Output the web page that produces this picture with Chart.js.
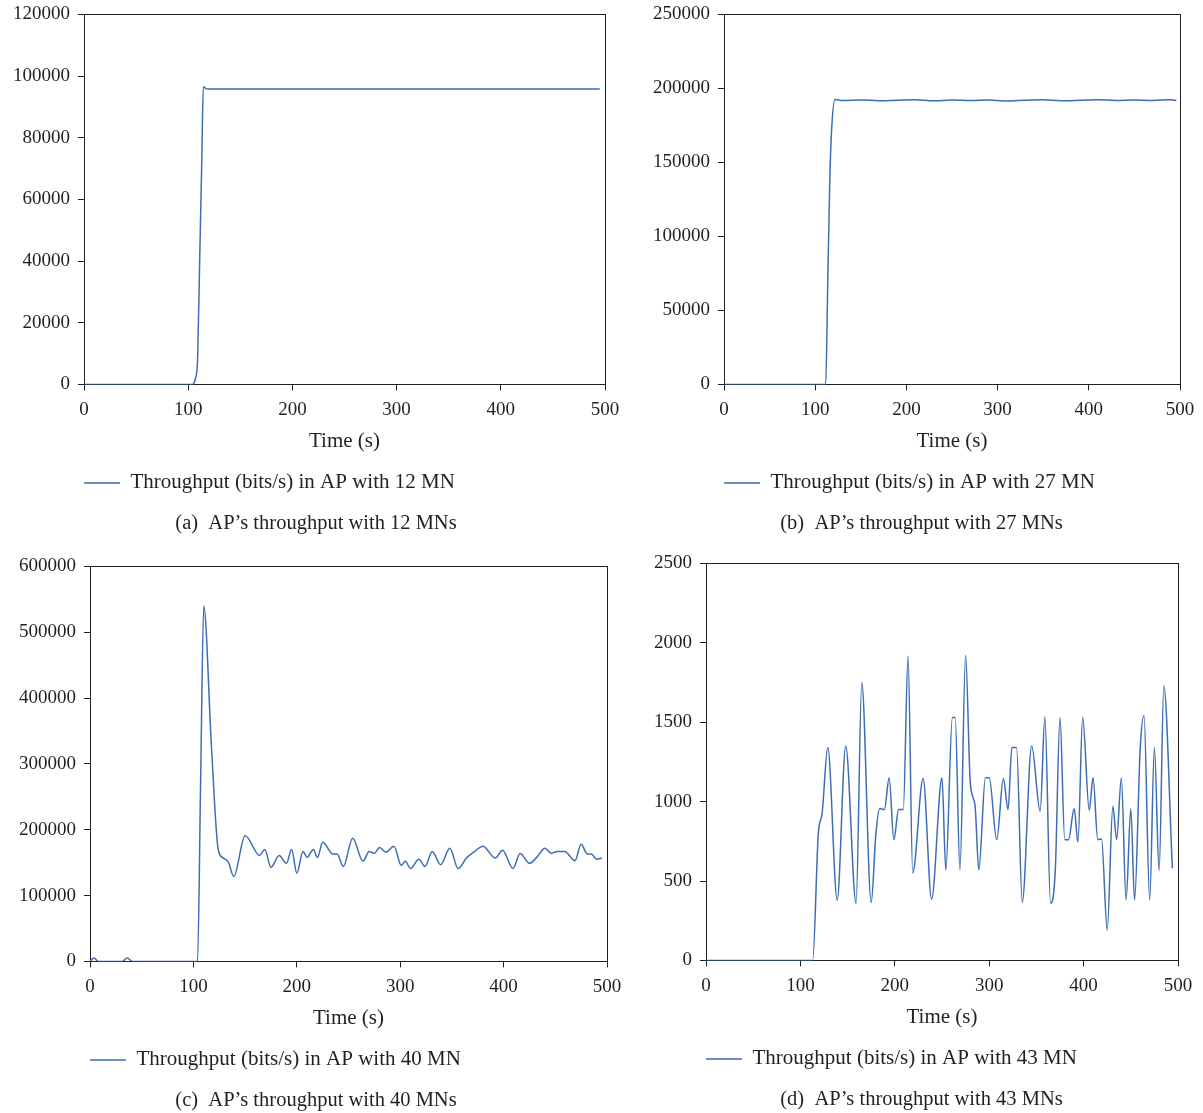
<!DOCTYPE html>
<html>
<head>
<meta charset="utf-8">
<script src="https://cdn.jsdelivr.net/npm/chart.js@4.4.1/dist/chart.umd.min.js"></script>
<style>
  body { margin: 0; background: #fff; width: 1203px; height: 1113px; overflow: hidden; position: relative; }
  canvas { position: absolute; }
</style>
</head>
<body>
<canvas id="chartA" width="632" height="541" style="left:0px;top:-5px"></canvas>
<canvas id="chartB" width="563" height="541" style="left:640px;top:-5px"></canvas>
<canvas id="chartC" width="632" height="566" style="left:0px;top:547px"></canvas>
<canvas id="chartD" width="563" height="568" style="left:640px;top:544px"></canvas>
<script>
// Panel (a): 12 MN
const timeA = [0, 104, 107, 109, 111, 113, 114.5, 118, 200, 300, 400, 495];
const rateA = [0, 0, 2000, 8000, 40000, 72000, 96500, 95800, 95800, 95800, 95800, 95800];

// Panel (b): 27 MN
const timeB = [0, 111.5, 113.8, 116, 118, 121.7, 130, 150, 170, 190, 210, 230, 250, 270, 290, 310, 330, 350, 370, 390, 410, 430, 450, 470, 490, 496];
const rateB = [0, 0, 70000, 138000, 172000, 192500, 191800, 192200, 191700, 192000, 192300, 191600, 192100, 191800, 192200, 191500, 192000, 192300, 191700, 192000, 192400, 191800, 192200, 191900, 192300, 191800];

// Panel (c): 40 MN
const timeC = [0, 4, 8, 31, 36, 41, 104, 107, 110, 117.5, 124, 129, 134, 139, 150, 164, 169, 175, 183, 190, 195, 200, 206, 210, 216, 220, 225, 235, 239, 245, 254, 264, 270, 275, 280, 286, 294, 301, 305, 310, 318, 324, 331, 339, 348, 356, 364, 372, 380, 392, 399, 409, 416, 425, 432, 440, 446, 452, 459, 469, 475, 481, 485, 490, 495];
const rateC = [0, 5000, 0, 0, 5000, 0, 0, 275000, 540000, 325000, 170000, 157000, 150000, 129000, 191000, 161000, 170000, 143000, 161000, 149000, 170000, 134000, 167000, 158000, 170000, 158000, 181000, 163000, 163000, 144000, 187000, 152000, 167000, 164000, 173000, 166000, 175000, 146000, 152000, 141000, 155000, 144000, 167000, 147000, 172000, 141000, 157000, 167000, 175000, 157000, 169000, 141000, 164000, 149000, 158000, 172000, 164000, 167000, 167000, 153000, 178000, 163000, 163000, 155000, 157000];

// Panel (d): 43 MN
const timeD = [0, 113, 119, 123, 129, 139, 148, 159, 165, 175, 180, 184, 189, 194, 199, 204, 209, 214, 219, 230, 239, 250, 254, 261, 264, 269, 275, 280, 285, 289, 296, 300, 308, 315, 320, 324, 329, 335, 345, 354, 359, 365, 370, 375, 380, 384, 390, 394, 399, 406, 410, 415, 419, 425, 431, 435, 440, 445, 450, 454, 460, 464, 470, 475, 480, 485, 494];
const rateD = [0, 0, 800, 925, 1340, 380, 1350, 360, 1750, 365, 800, 957, 950, 1150, 760, 950, 950, 1915, 550, 1145, 385, 1150, 570, 1530, 1530, 570, 1920, 1115, 975, 570, 1150, 1150, 760, 1145, 950, 1340, 1340, 365, 1350, 940, 1535, 360, 565, 1530, 760, 760, 955, 745, 1530, 945, 1150, 760, 765, 190, 970, 760, 1150, 380, 955, 380, 1340, 1540, 380, 1340, 565, 1730, 580];

const timeTicks = [0, 100, 200, 300, 400, 500];

const ink = "#231f20";
const lineBlue = "#3d6db3";
const serif = "'Liberation Serif', 'DejaVu Serif', serif";

// legend starts at the left edge of the plot box
const legendShift = {
  id: "legendShift",
  afterLayout(chart) {
    const pad = chart.options.plugins.legend.labels.padding;
    chart.legend.left = chart.chartArea.left - pad;
  },
};

function makePanel(id, times, rates, yMax, yStep, axisWidth, rightGap, seriesLabel, caption) {
  const points = times.map((t, i) => ({ x: t, y: rates[i] }));
  const hidden = {
    display: true,
    ticks: { display: false },
    grid: { drawTicks: false, drawOnChartArea: false },
    border: { color: ink, width: 1 },
  };
  return new Chart(document.getElementById(id), {
    type: "line",
    data: {
      datasets: [
        {
          label: seriesLabel,
          data: points,
          borderColor: lineBlue,
          backgroundColor: lineBlue,
          borderWidth: 1.5,
          pointRadius: 0,
          cubicInterpolationMode: "monotone",
        },
      ],
    },
    options: {
      responsive: false,
      animation: false,
      layout: { padding: 0 },
      scales: {
        x: {
          type: "linear",
          min: 0,
          max: 500,
          afterBuildTicks: (scale) => {
            scale.ticks = timeTicks.map((v) => ({ value: v }));
          },
          ticks: {
            color: ink,
            font: { family: serif, size: 19 },
            padding: 8,
            maxRotation: 0,
            callback: (v) => String(v),
          },
          grid: { drawOnChartArea: false, tickLength: 6, tickColor: ink },
          border: { color: ink, width: 1 },
          title: {
            display: true,
            text: "Time (s)",
            color: ink,
            font: { family: serif, size: 21 },
            padding: { top: 0, bottom: 0 },
          },
        },
        y: {
          min: 0,
          max: yMax,
          ticks: {
            stepSize: yStep,
            color: ink,
            font: { family: serif, size: 19 },
            padding: 8,
            callback: (v) => String(v),
          },
          grid: { drawOnChartArea: false, tickLength: 6, tickColor: ink },
          border: { color: ink, width: 1 },
          afterFit: (scale) => {
            scale.width = axisWidth;
          },
        },
        xTop: Object.assign({ type: "linear", position: "top", min: 0, max: 500 }, hidden),
        yRight: Object.assign({ type: "linear", position: "right", min: 0, max: yMax,
          afterFit: (scale) => {
            scale.width = rightGap;
          } }, hidden),
      },
      plugins: {
        legend: {
          position: "bottom",
          align: "start",
          labels: {
            usePointStyle: true,
            pointStyle: "line",
            pointStyleWidth: 36,
            padding: 18,
            color: ink,
            font: { family: serif, size: 21 },
          },
        },
        title: {
          display: true,
          position: "bottom",
          text: caption,
          color: ink,
          font: { family: serif, size: 20.5, weight: "normal" },
          padding: { top: 8, bottom: 0 },
        },
        tooltip: { enabled: false },
      },
    },
    plugins: [legendShift],
  });
}

makePanel("chartA", timeA, rateA, 120000, 20000, 84, 27,
  "Throughput (bits/s) in AP with 12 MN", "(a)  AP\u2019s throughput with 12 MNs");
makePanel("chartB", timeB, rateB, 250000, 50000, 84, 23,
  "Throughput (bits/s) in AP with 27 MN", "(b)  AP\u2019s throughput with 27 MNs");
makePanel("chartC", timeC, rateC, 600000, 100000, 90, 25,
  "Throughput (bits/s) in AP with 40 MN", "(c)  AP\u2019s throughput with 40 MNs");
makePanel("chartD", timeD, rateD, 2500, 500, 66, 25,
  "Throughput (bits/s) in AP with 43 MN", "(d)  AP\u2019s throughput with 43 MNs");
</script>
</body>
</html>
